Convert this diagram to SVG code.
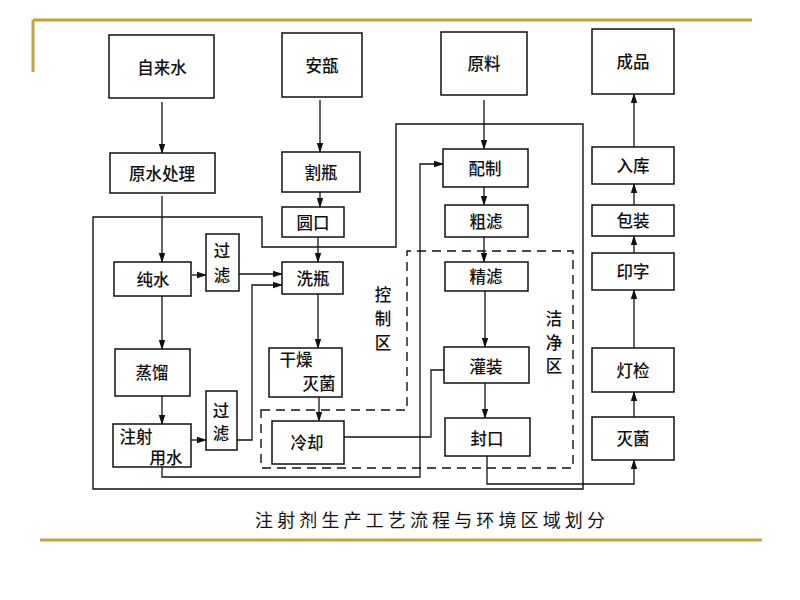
<svg xmlns="http://www.w3.org/2000/svg" width="800" height="600" viewBox="0 0 800 600">
<style>
.box{fill:#fff;stroke:#111;stroke-width:1.5}
.t{font-family:"Noto Sans CJK SC","Noto Sans",sans-serif;font-size:16.5px;font-weight:500;fill:#111;text-anchor:middle;dominant-baseline:central}
.c{fill:none;stroke:#111;stroke-width:1.3}
.a{fill:none;stroke:#111;stroke-width:1.3;marker-end:url(#ah)}
.zone{fill:none;stroke:#111;stroke-width:1.4}
.dash{fill:none;stroke:#111;stroke-width:1.4;stroke-dasharray:9 6}
.gold{stroke:#C4A43E;stroke-width:3;fill:none}
</style>
<defs>
<marker id="ah" markerWidth="10" markerHeight="8" refX="9" refY="4" orient="auto" markerUnits="userSpaceOnUse">
<path d="M0,0.8 L10,4 L0,7.2 Z" fill="#111"/>
</marker>
</defs>
<rect width="800" height="600" fill="#fff"/>
<g id="frame">
<path class="gold" d="M33,20 H752"/>
<path class="gold" d="M33,20 V72"/>
<path class="gold" d="M40,540 H762"/>
</g>
<g id="zones">
<path class="zone" d="M93,217 H262 V247 H396 V124 H583 V489 H93 Z"/>
<path class="dash" d="M261,410 H407 V251 H573 V468 H261 Z"/>
<text class="t" x="383" y="294">控</text>
<text class="t" x="383" y="318">制</text>
<text class="t" x="383" y="342">区</text>
<text class="t" x="554" y="318">洁</text>
<text class="t" x="554" y="342">净</text>
<text class="t" x="554" y="365">区</text>
</g>
<g id="connectors">
<path class="a" d="M162,102 V153"/>
<path class="a" d="M162,196 V262"/>
<path class="a" d="M192,275 H206"/>
<path class="a" d="M239,274 H282"/>
<path class="a" d="M162,296 V349"/>
<path class="a" d="M162,396 V424"/>
<path class="a" d="M191,440 H206"/>
<path class="a" d="M237,440 H252 V285 H282"/>
<path class="a" d="M162,467 V477 H420 V164 H443"/>
<path class="c" d="M344,437 H431 V370 H444"/>
<path class="a" d="M320,100 V152"/>
<path class="a" d="M320,192 V207"/>
<path class="a" d="M318,237 V262"/>
<path class="a" d="M318,294 V348"/>
<path class="a" d="M319,397 V421"/>
<path class="a" d="M484,100 V149"/>
<path class="a" d="M484,187 V205"/>
<path class="a" d="M484,237 V262"/>
<path class="a" d="M485,291 V347"/>
<path class="a" d="M485,383 V418"/>
<path class="a" d="M487,456 V484 H634 V460"/>
<path class="a" d="M634,417 V392"/>
<path class="a" d="M634,348 V290"/>
<path class="a" d="M634,253 V236"/>
<path class="a" d="M634,205 V184"/>
<path class="a" d="M634,147 V94"/>
</g>
<g id="n-zilaishui"><rect class="box" x="109" y="35" width="105" height="63"/><text class="t" x="162" y="67">自来水</text></g>
<g id="n-anbu"><rect class="box" x="282" y="33" width="80" height="64"/><text class="t" x="322" y="65">安瓿</text></g>
<g id="n-yuanliao"><rect class="box" x="441" y="32" width="86" height="63"/><text class="t" x="484" y="63">原料</text></g>
<g id="n-chengpin"><rect class="box" x="592" y="29" width="82" height="65"/><text class="t" x="633" y="61">成品</text></g>
<g id="n-yuanshui"><rect class="box" x="110" y="153" width="105" height="40"/><text class="t" x="162" y="173">原水处理</text></g>
<g id="n-gepin"><rect class="box" x="282" y="152" width="78" height="40"/><text class="t" x="321" y="172">割瓶</text></g>
<g id="n-yuankou"><rect class="box" x="282" y="207" width="62" height="30"/><text class="t" x="313" y="222">圆口</text></g>
<g id="n-peizhi"><rect class="box" x="443" y="149" width="85" height="38"/><text class="t" x="485" y="168">配制</text></g>
<g id="n-culv"><rect class="box" x="445" y="205" width="83" height="32"/><text class="t" x="486" y="221">粗滤</text></g>
<g id="n-jinglv"><rect class="box" x="445" y="262" width="83" height="29"/><text class="t" x="486" y="276">精滤</text></g>
<g id="n-guanzhuang"><rect class="box" x="444" y="347" width="85" height="36"/><text class="t" x="486" y="366">灌装</text></g>
<g id="n-fengkou"><rect class="box" x="445" y="418" width="85" height="38"/><text class="t" x="487" y="438">封口</text></g>
<g id="n-ruku"><rect class="box" x="592" y="147" width="82" height="37"/><text class="t" x="633" y="165">入库</text></g>
<g id="n-baozhuang"><rect class="box" x="592" y="205" width="82" height="31"/><text class="t" x="633" y="220">包装</text></g>
<g id="n-yinzi"><rect class="box" x="592" y="253" width="82" height="37"/><text class="t" x="633" y="271">印字</text></g>
<g id="n-dengjian"><rect class="box" x="592" y="348" width="82" height="44"/><text class="t" x="633" y="370">灯检</text></g>
<g id="n-miejun2"><rect class="box" x="592" y="417" width="82" height="43"/><text class="t" x="633" y="438">灭菌</text></g>
<g id="n-chunshui"><rect class="box" x="114" y="262" width="77" height="34"/><text class="t" x="153" y="279">纯水</text></g>
<g id="n-guolv1"><rect class="box" x="206" y="234" width="33" height="57"/><text class="t" x="222" y="250">过</text><text class="t" x="222" y="275">滤</text></g>
<g id="n-xipin"><rect class="box" x="282" y="262" width="61" height="32"/><text class="t" x="313" y="278">洗瓶</text></g>
<g id="n-zhengliu"><rect class="box" x="115" y="349" width="75" height="47"/><text class="t" x="152" y="372">蒸馏</text></g>
<g id="n-zhusheshui"><rect class="box" x="113" y="424" width="78" height="43"/><text class="t" x="136" y="436">注射</text><text class="t" x="166" y="457">用水</text></g>
<g id="n-guolv2"><rect class="box" x="206" y="391" width="31" height="59"/><text class="t" x="221" y="410">过</text><text class="t" x="221" y="433">滤</text></g>
<g id="n-ganzao"><rect class="box" x="269" y="348" width="73" height="49"/><text class="t" x="296" y="359">干燥</text><text class="t" x="319" y="383">灭菌</text></g>
<g id="n-lengque"><rect class="box" x="272" y="421" width="72" height="43"/><text class="t" x="307" y="442">冷却</text></g>
<g id="caption"><text x="255" y="519" font-family="'Noto Sans CJK SC','Noto Sans',sans-serif" font-size="18" font-weight="400" fill="#111" dominant-baseline="central" textLength="350" lengthAdjust="spacing">注射剂生产工艺流程与环境区域划分</text></g>
</svg>
